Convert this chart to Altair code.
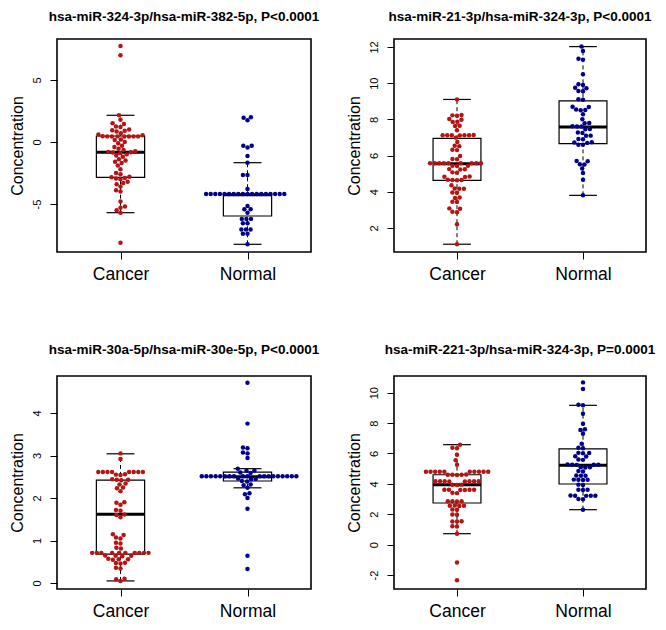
import math
import altair as alt
import pandas as pd

groups = ["Cancer", "Normal"]
colors = ["#b41414", "#00008b"]

titles = [
    "hsa-miR-324-3p/hsa-miR-382-5p, P<0.0001",
    "hsa-miR-21-3p/hsa-miR-324-3p, P<0.0001",
    "hsa-miR-30a-5p/hsa-miR-30e-5p, P<0.0001",
    "hsa-miR-221-3p/hsa-miR-324-3p, P=0.0001",
]

# ---- panel 1 ----
p1_cancer = [7.74, 6.99, 2.15, 1.8, 1.5, 1.45, 1.25, 1.2, 1.0, 0.95, 0.9, 0.85, 0.7, 0.6, 0.55,
             0.46, 0.45, 0.45, 0.45, 0.45, 0.44, 0.44, 0.44,
             0.2, 0.15, 0.0, -0.1, -0.3, -0.4, -0.55, -0.65, -0.75, -0.8,
             -0.83, -0.85, -0.9,
             -1.0, -1.1, -1.2, -1.4, -1.5, -1.6, -1.7, -1.9, -2.2, -2.5, -2.6, -2.8,
             -2.85, -2.9, -2.95, -3.0,
             -3.2, -3.3, -3.4, -3.6, -3.9, -4.0, -4.8, -5.2, -5.3, -5.5, -5.7, -8.12]
p1_normal = [2.0, 1.95, 1.75, -0.3, -0.3, -0.45, -1.13, -1.67, -2.66, -2.66, -3.8,
             -4.2, -4.2, -4.2, -4.2, -4.2, -4.2, -4.2, -4.2, -4.2, -4.2,
             -4.2, -4.2, -4.2, -4.2, -4.2, -4.2, -4.2, -4.2,
             -5.16, -5.43, -5.43, -5.7, -6.2, -6.2, -6.2, -6.56, -6.56,
             -7.05, -7.05, -7.05, -7.4, -7.4, -8.25]
# box stats: [lower whisker, Q1, median, Q3, upper whisker]
p1_cancer_box = [-5.7, -2.85, -0.83, 0.48, 2.15]
p1_normal_box = [-8.25, -5.97, -4.25, -4.25, -1.67]

# ---- panel 2 ----
p2_cancer = [9.1, 8.24, 8.22, 8.2, 8.02, 7.98, 7.87, 7.85, 7.65, 7.63, 7.4,
             7.12, 7.12, 7.12, 7.11, 7.12, 7.12, 7.13,
             6.99, 6.75, 6.54, 6.52, 6.32, 6.3, 5.98, 5.81, 5.79,
             5.57, 5.57, 5.57, 5.57, 5.57, 5.57, 5.57, 5.57, 5.57,
             5.44, 5.43, 5.42, 5.25, 5.24, 5.23, 5.07, 5.05, 4.84, 4.83, 4.82,
             4.66, 4.65, 4.65, 4.64,
             4.36, 4.18, 4.17, 4.16, 3.96, 3.94, 3.68, 3.66, 3.45, 3.43, 3.08, 3.06,
             2.89, 2.87, 2.2, 1.1]
p2_normal = [12.02, 11.78, 11.35, 11.3, 10.49, 9.94, 9.9, 9.75, 9.72, 9.57, 9.55, 9.11, 9.08,
             8.7, 8.68, 8.52, 8.5, 8.54, 8.28, 8.01, 7.79, 7.8, 7.6, 7.6, 7.62, 7.45, 7.47,
             7.27, 7.25, 7.09, 7.1, 6.9, 6.92, 6.72, 6.7, 6.74,
             6.6, 6.6, 5.7, 5.68, 5.5, 5.52, 5.28, 5.03, 4.66, 3.8]
p2_cancer_box = [1.1, 4.63, 5.55, 6.95, 9.1]
p2_normal_box = [3.8, 6.66, 7.58, 9.02, 12.02]

# ---- panel 3 ----
p3_cancer = [3.05, 2.92,
             2.61, 2.61, 2.61, 2.61, 2.61, 2.61, 2.61, 2.61,
             2.56, 2.55, 2.54, 2.44, 2.43, 2.43, 2.42, 2.34, 2.32, 2.25, 2.23, 2.16,
             1.9, 1.89, 1.84, 1.72, 1.7, 1.61, 1.6, 1.55,
             1.15, 1.13, 1.07, 1.05, 0.95, 0.93, 0.83, 0.81,
             0.71, 0.71, 0.71, 0.71, 0.71, 0.71, 0.71, 0.71, 0.71, 0.71,
             0.65, 0.64, 0.64, 0.63, 0.57, 0.56, 0.56, 0.55, 0.48, 0.47, 0.46,
             0.36, 0.34, 0.1, 0.09, 0.05]
p3_normal = [4.71, 3.75, 3.19, 3.17, 3.07, 3.05, 2.94, 2.69, 2.65, 2.64, 2.6, 2.59,
             2.51, 2.51, 2.51, 2.51, 2.51, 2.51, 2.51, 2.51, 2.51, 2.51,
             2.51, 2.51, 2.51, 2.51, 2.51, 2.51, 2.51, 2.51, 2.51,
             2.46, 2.45, 2.44, 2.4, 2.39, 2.32, 2.3, 2.24, 2.11, 2.09, 2.0, 1.75, 0.64, 0.33]
p3_cancer_box = [0.05, 0.68, 1.62, 2.42, 3.04]
p3_normal_box = [2.24, 2.4, 2.5, 2.61, 2.69]

# ---- panel 4 ----
p4_cancer = [6.58, 6.37, 6.35, 5.92, 5.55, 5.26,
             4.8, 4.8, 4.8, 4.8, 4.8, 4.8, 4.8, 4.8, 4.8, 4.8,
             4.61, 4.6, 4.6, 4.59, 4.6,
             4.18, 4.17, 4.17, 4.16, 4.18, 4.17, 4.16, 4.17,
             3.95, 3.94, 3.93,
             3.62, 3.61, 3.6, 3.61, 3.62, 3.6, 3.41, 3.39,
             2.86, 2.85, 2.84, 2.85, 2.57, 2.56, 2.55, 2.56, 2.31, 2.29,
             1.98, 1.96, 1.54, 1.53, 1.52, 1.21, 1.19, 0.72, -1.17, -2.35]
p4_normal = [10.68, 10.24, 9.21, 9.17, 8.62, 7.95, 7.6, 7.55, 7.3, 6.64, 6.37, 6.35,
             6.04, 6.03, 6.02, 5.82, 5.8, 5.6, 5.58,
             5.26, 5.26, 5.25, 5.27, 5.26, 5.1, 5.09, 5.08, 4.84, 4.82,
             4.55, 4.54, 4.53, 4.28, 4.27, 4.26, 4.27, 3.95, 3.93,
             3.62, 3.61, 3.6, 3.23, 3.22, 3.22, 3.21, 3.22, 3.01, 2.99, 2.3]
p4_cancer_box = [0.72, 2.74, 3.94, 4.6, 6.58]
p4_normal_box = [2.3, 3.99, 5.22, 6.3, 9.17]

y_domains = [[-8.87, 8.3], [0.67, 12.44], [-0.14, 4.87], [-2.92, 11.1]]
y_ticks = [[-5, 0, 5], [2, 4, 6, 8, 10, 12], [0, 1, 2, 3, 4], [-2, 0, 2, 4, 6, 8, 10]]

H = 213
D = 4.6  # swarm spacing in pixels
FONT = "Liberation Sans"


def swarm(vals, ppu_y):
    order = sorted(range(len(vals)), key=lambda i: vals[i])
    placed = []
    out = [0.0] * len(vals)
    for i in order:
        y = vals[i] * ppu_y
        cands = [0.0]
        for xj, yj in placed:
            dy = abs(y - yj)
            if dy < D:
                dx = math.sqrt(D * D - dy * dy)
                cands += [xj + dx, xj - dx]
        cands.sort(key=lambda c: (abs(c), c))
        chosen = 0.0
        for c in cands:
            if all((c - xj) ** 2 + (y - yj) ** 2 >= D * D - 1e-6 for xj, yj in placed):
                chosen = c
                break
        placed.append((chosen, y))
        out[i] = chosen
    return out


def panel(k, cancer, normal, cbox, nbox, title_offset, W):
    dom = y_domains[k]
    ppu_y = H / (dom[1] - dom[0])
    ppu_x = W / 2.0
    rows = []
    for gi, (g, vals) in enumerate(zip(groups, [cancer, normal])):
        offs = swarm(vals, ppu_y)
        for v, o in zip(vals, offs):
            rows.append({"group": g, "x": gi + 1 + o / ppu_x, "value": v})
    pts = pd.DataFrame(rows)
    brows = []
    for gi, (g, b) in enumerate(zip(groups, [cbox, nbox])):
        p = gi + 1
        brows.append({"group": g, "pos": p, "lo": b[0], "q1": b[1], "med": b[2], "q3": b[3],
                      "hi": b[4], "b1": p - 0.19, "b2": p + 0.19, "c1": p - 0.11, "c2": p + 0.11})
    box = pd.DataFrame(brows)

    xs = alt.Scale(domain=[0.5, 2.5], nice=False, zero=False)
    ys = alt.Scale(domain=dom, nice=False, zero=False)
    xaxis = alt.Axis(values=[1, 2], labelExpr="datum.value == 1 ? 'Cancer' : 'Normal'",
                     title=None, labelFontSize=17.5, labelPadding=6, tickSize=7, labelAngle=0,
                     grid=False, domain=False, labelOverlap=False)
    yaxis = alt.Axis(values=y_ticks[k], labelExpr="'' + datum.value", title="Concentration",
                     labelFontSize=11, labelAngle=270, labelAlign="center", labelBaseline="bottom",
                     labelPadding=8, tickSize=7, titleFontSize=16, titleFontWeight="normal",
                     titlePadding=6, labelOverlap=False, labelSeparation=0,
                     grid=False, domain=False)

    def X(f):
        return alt.X(f, scale=xs, axis=xaxis)

    def Y(f):
        return alt.Y(f, scale=ys, axis=yaxis)

    base = alt.Chart(box)
    whisk = base.mark_rule(strokeDash=[4, 3], color="black", strokeWidth=1).encode(
        x=X("pos:Q"), y=Y("lo:Q"), y2="hi:Q")
    cap_lo = base.mark_rule(color="black", strokeWidth=1.2).encode(
        x=X("c1:Q"), x2="c2:Q", y=Y("lo:Q"))
    cap_hi = base.mark_rule(color="black", strokeWidth=1.2).encode(
        x=X("c1:Q"), x2="c2:Q", y=Y("hi:Q"))
    rect = base.mark_rect(fill="white", stroke="black", strokeWidth=1.2).encode(
        x=X("b1:Q"), x2="b2:Q", y=Y("q1:Q"), y2="q3:Q")
    med = base.mark_rule(color="black", strokeWidth=3).encode(
        x=X("b1:Q"), x2="b2:Q", y=Y("med:Q"))
    points = alt.Chart(pts).mark_circle(size=20, opacity=1).encode(
        x=X("x:Q"),
        y=Y("value:Q"),
        color=alt.Color("group:N", scale=alt.Scale(domain=groups, range=colors), legend=None),
    )
    return alt.layer(whisk, cap_lo, cap_hi, rect, med, points).properties(
        width=W, height=H,
        title=alt.TitleParams(titles[k], fontSize=13.5, fontWeight="bold", font=FONT,
                              anchor="middle", color="black", offset=title_offset),
    )


p1 = panel(0, p1_cancer, p1_normal, p1_cancer_box, p1_normal_box, 16, 254)
p2 = panel(1, p2_cancer, p2_normal, p2_cancer_box, p2_normal_box, 16, 252)
p3 = panel(2, p3_cancer, p3_normal, p3_cancer_box, p3_normal_box, 20, 254)
p4 = panel(3, p4_cancer, p4_normal, p4_cancer_box, p4_normal_box, 20, 252)

chart = alt.concat(p1, p2, p3, p4, columns=2, spacing={"row": 57, "column": 24}).properties(
    padding={"left": 0, "top": 0, "right": 0, "bottom": 0},
    background="white",
).configure_view(
    stroke="black", strokeWidth=1.6
).configure_axis(
    grid=False, domain=False, tickColor="black", labelColor="black", titleColor="black",
    labelFont=FONT, titleFont=FONT, labelOverlap=False,
)

chart.save("out.html", embed_options={"renderer": "svg", "actions": False})
